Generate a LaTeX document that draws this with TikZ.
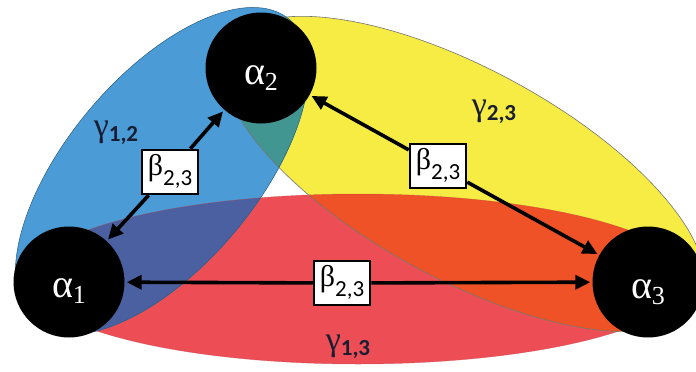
\documentclass[tikz,border=0pt]{standalone}
\usepackage{fontspec}
\setmainfont{Liberation Serif}
\newfontfamily\calfont{Carlito}
\usetikzlibrary{arrows.meta}
\definecolor{cblue}{RGB}{74,155,214}
\definecolor{cyellow}{RGB}{246,236,68}
\definecolor{cred}{RGB}{237,78,86}
\definecolor{cdark}{RGB}{74,96,160}
\definecolor{cteal}{RGB}{66,150,146}
\definecolor{corange}{RGB}{238,82,38}
\definecolor{cnavy}{RGB}{25,30,50}
\newcommand\alab[1]{{\fontsize{40}{40}\selectfont α}\raisebox{-6pt}{\fontsize{26}{26}\selectfont #1}}
\newcommand\blab{{\fontsize{30}{30}\selectfont β}\raisebox{-10pt}{\calfont\fontsize{23}{23}\selectfont 2,3}}
\newcommand\glab[1]{{\fontsize{34}{34}\selectfont γ}\raisebox{-5pt}{\calfont\bfseries\fontsize{23}{23}\selectfont #1}}
\begin{document}
\begin{tikzpicture}[x=1pt,y=-1pt,
  circ/.style={circle,fill=black,minimum size=111pt,inner sep=0pt},
  atext/.style={text=white,anchor=base,inner sep=0pt},
  bbox/.style={draw=black,line width=2.5pt,fill=white,minimum width=56pt,minimum height=44pt,inner sep=0pt,text height=19pt,text depth=12pt},
  glabel/.style={text=cnavy,inner sep=0pt},
  arr/.style={line width=3.6pt,-{Triangle[length=15pt,width=14pt]},shorten >=2pt}]
\useasboundingbox (0,0) rectangle (696,372);
\def\redE{(358,279) ellipse [x radius=330pt, y radius=85pt]}
\def\yelE{(464,174) ellipse [x radius=268pt, y radius=105pt]}
\def\bluE{(162,171) ellipse [x radius=198pt, y radius=95pt]}
% base fills
\fill[cred] \redE;
\fill[cyellow, rotate around={-28.5:(464,174)}] \yelE;
\fill[cblue, rotate around={50:(162,171)}] \bluE;
% overlaps
\begin{scope}
  \clip[rotate around={50:(162,171)}] \bluE;
  \fill[cdark] \redE;
  \fill[cteal, rotate around={-28.5:(464,174)}] \yelE;
\end{scope}
\begin{scope}
  \clip[rotate around={-28.5:(464,174)}] \yelE;
  \fill[corange] \redE;
\end{scope}
% outlines
\draw[line width=0.5pt, cred!80!black, opacity=0.5] \redE;
\draw[line width=0.6pt, black!55, rotate around={-28.5:(464,174)}] \yelE;
\draw[line width=0.5pt, cblue!60!black, rotate around={50:(162,171)}] \bluE;
% circles
\node[circ] (a1) at (69,282) {};
\node[circ] (a2) at (261,68) {};
\node[circ] (a3) at (648,282) {};
\node[atext] (t1) at (69,297) {\alab{1}};
\node[atext] (t2) at (261,84) {\alab{2}};
\node[atext] (t3) at (648,298) {\alab{3}};
% boxes
\node[bbox] (b1) at (170,172) {\blab};
\node[bbox] (b2) at (438,166) {\blab};
\node[bbox] (b3) at (342,283) {\blab};
% arrows
\draw[arr] (b1) -- (a2);
\draw[arr] (b1) -- (a1);
\draw[arr] (b2) -- (a2);
\draw[arr] (b2) -- (a3);
\draw[arr] (b3) -- (a1);
\draw[arr] (b3) -- (a3);
% gamma labels
\node[glabel] (g12) at (116,133) {\glab{1,2}};
\node[glabel] (g23) at (494,112) {\glab{2,3}};
\node[glabel] (g13) at (348,347) {\glab{1,3}};
\end{tikzpicture}
\end{document}
